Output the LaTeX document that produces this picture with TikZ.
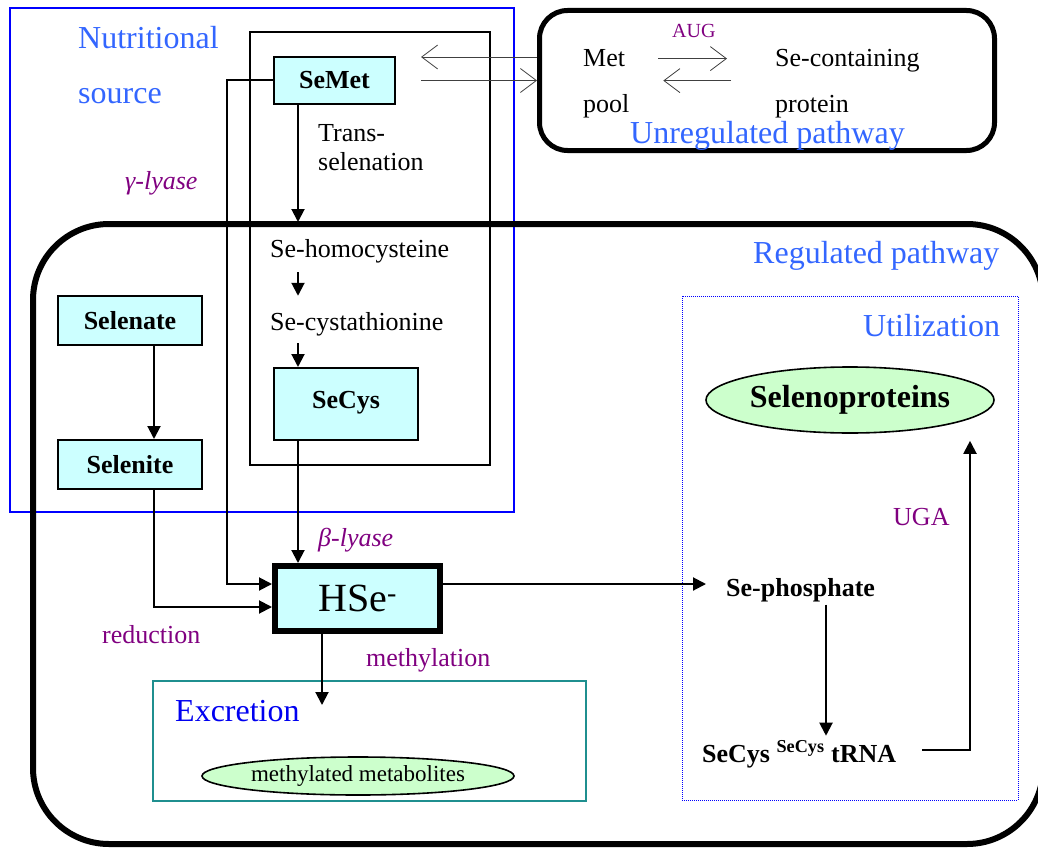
\documentclass[tikz,border=0pt]{standalone}
\usepackage{fontspec}
\setmainfont{Liberation Serif}
\usetikzlibrary{arrows.meta,shapes.geometric}

\definecolor{lblblue}{HTML}{3366FF}
\definecolor{enzpurple}{HTML}{800080}
\definecolor{excblue}{HTML}{0000F0}
\definecolor{frameblue}{HTML}{0000FF}
\definecolor{frameteal}{HTML}{1F8F8F}
\definecolor{boxcyan}{HTML}{CCFFFF}
\definecolor{ellgreen}{HTML}{CCFFCC}

\tikzset{
  cbox/.style={draw=black, fill=boxcyan, line width=2pt, inner sep=0pt,
    font=\fontsize{26}{28}\selectfont\bfseries},
  txt/.style={font=\fontsize{26}{28}\selectfont, inner sep=0pt},
  btxt/.style={font=\fontsize{26}{28}\selectfont\bfseries, inner sep=0pt},
  lbl/.style={font=\fontsize{32}{36}\selectfont, text=lblblue, inner sep=0pt},
  enz/.style={font=\fontsize{26}{28}\selectfont, text=enzpurple, inner sep=0pt},
  ell/.style={ellipse, draw=black, line width=1.6pt, fill=ellgreen, inner sep=0pt},
  arr/.style={line width=2pt, -{Triangle[length=13pt,width=13pt]}},
  thinarr/.style={line width=0.8pt, draw=black!75, -{Straight Barb[length=16pt,width=24pt]}},
}

\begin{document}
\begin{tikzpicture}[x=1pt,y=-1pt]
\useasboundingbox (0,0) rectangle (1038,848);

% frames
\draw[frameblue, line width=2pt] (10,8) rectangle (514,512);
\draw[line width=2pt] (250,32) rectangle (490,465);
\draw[line width=6pt, rounded corners=76pt] (33,224) rectangle (1043,844);
\draw[frameteal, line width=2pt] (153,681) rectangle (586,801);
\draw[frameblue, line width=1pt, densely dotted] (682,296) rectangle (1018,800);

% unregulated pathway
\node[draw, line width=5pt, rounded corners=28pt, minimum width=455pt, minimum height=140pt] (unreg) at (767,80.5) {};
\node[txt, anchor=base west] (met) at (583,67) {Met};
\node[txt, anchor=base west] (pool) at (583,113) {pool};
\node[txt, anchor=base west] (secont) at (775,67) {Se-containing};
\node[txt, anchor=base west] (protein) at (775,113) {protein};
\node[enz, font=\fontsize{20}{22}\selectfont, anchor=base west] (aug) at (672,38) {AUG};
\node[lbl, anchor=base west] (unregtitle) at (630,143) {Unregulated pathway};
\draw[thinarr] ([xshift=33pt]met.east) -- ([xshift=-48pt]secont.west |- met.east);
\draw[thinarr] ([xshift=-44pt,yshift=-22pt]secont.west |- met.east) -- ([xshift=38pt,yshift=-22pt]met.east);

% nutritional source
\node[lbl, anchor=base west] (nutri1) at (78,49) {Nutritional};
\node[lbl, anchor=base west] (nutri2) at (78,104) {source};
\node[enz, anchor=base west] (glyase) at (125,189) {\itshape γ-lyase};
\node[cbox, minimum width=121pt, minimum height=47pt] (semet) at (334.5,80.5) {SeMet};
\node[txt, anchor=base west] (trans1) at (318,142) {Trans-};
\node[txt, anchor=base west] (trans2) at (318,170) {selenation};
\node[txt, anchor=base west] (homocys) at (270,257) {Se-homocysteine};
\node[txt, anchor=base west] (cysta) at (270,330) {Se-cystathionine};
\node[cbox, minimum width=144pt, minimum height=72pt, text depth=8pt] (secys) at (346,404) {SeCys};
\node[cbox, minimum width=144pt, minimum height=49pt] (selenate) at (130,320.5) {Selenate};
\node[cbox, minimum width=144pt, minimum height=49pt] (selenite) at (130,464.5) {Selenite};

\draw[thinarr] ([yshift=23.5pt]unreg.west) -- ([xshift=25pt,yshift=23.5pt]semet.east);
\draw[thinarr] ([xshift=25pt]semet.east) -- (unreg.west);

% regulated pathway
\node[lbl, anchor=base west] (regtitle) at (753,263) {Regulated pathway};
\node[cbox, line width=6pt, font=\fontsize{40}{44}\selectfont, minimum width=165pt, minimum height=65pt] (hse) at (357.5,598.5) {HSe\textsuperscript{-}};
\node[enz, anchor=base west] (blyase) at (318,546) {\itshape β-lyase};
\node[enz, anchor=base west] (reduction) at (102,643) {reduction};
\node[enz, anchor=base west] (methylation) at (366,666) {methylation};

% excretion
\node[font=\fontsize{32}{36}\selectfont, text=excblue, inner sep=0pt, anchor=base west] (excrtitle) at (175,721) {Excretion};
\node[ell, font=\fontsize{23}{26}\selectfont, minimum width=312pt, minimum height=38pt] (metab) at (358,776) {methylated metabolites};

% utilization
\node[lbl, anchor=base west] (utiltitle) at (863,336) {Utilization};
\node[ell, font=\fontsize{32}{36}\selectfont\bfseries, minimum width=288pt, minimum height=66pt] (selenop) at (850,400) {Selenoproteins};
\node[btxt, anchor=base west] (sephos) at (726,596) {Se-phosphate};
\node[btxt, anchor=base west] (trna) at (702,762) {SeCys \textsuperscript{SeCys} tRNA};
\node[enz, anchor=base west] (uga) at (893,525) {UGA};

% connectors
\coordinate (regtop) at (298,222);
\coordinate (excin) at (322,705);
\coordinate (hseout) at ([yshift=14.5pt]hse.east);
\draw[arr] (semet.south -| regtop) -- (regtop);
\draw[arr, shorten <=9.5pt, shorten >=16pt] (homocys.south -| regtop) -- (cysta.north -| regtop);
\draw[arr, shorten <=7.5pt] (cysta.south -| regtop) -- (secys.north -| regtop);
\draw[arr] (secys.south -| regtop) -- (hse.north -| regtop);
\draw[arr] (semet.west) -- ++(-46,0) |- ([yshift=14.5pt]hse.west);
\draw[arr] ([xshift=24pt]selenate.south) -- ([xshift=24pt]selenite.north);
\draw[arr] ([xshift=24pt]selenite.south) |- ([yshift=-8.5pt]hse.west);
\draw[arr] (hse.south -| excin) -- (excin);
\draw[arr, shorten >=20pt] (hseout) -- (sephos.west |- hseout);
\draw[arr, shorten <=3pt, shorten >=5pt] ([xshift=100pt]sephos.south west) -- ([xshift=100pt]sephos.south west |- trna.north);
\draw[arr, shorten >=7pt] ([xshift=26pt,yshift=12pt]trna.base east) -| ([xshift=120pt]selenop.south);
\end{tikzpicture}
\end{document}
